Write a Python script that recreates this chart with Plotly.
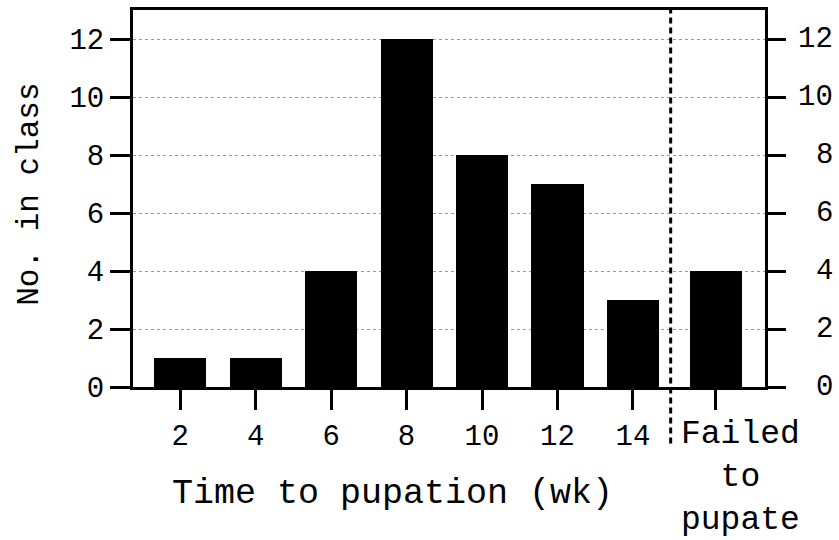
import plotly.graph_objects as go

weeks = [2, 4, 6, 8, 10, 12, 14]
week_counts = [1, 1, 4, 12, 8, 7, 3]
failed_label = "Failed<br>to<br>pupate"
failed_count = 4
failed_pos = 16.2
divider_pos = 15.0
y_ticks = [0, 2, 4, 6, 8, 10, 12]

FONT = "Liberation Mono, Courier New, monospace"
TICK_SIZE = 29

x_vals = weeks + [failed_pos]
y_vals = week_counts + [failed_count]

fig = go.Figure()
fig.add_trace(go.Bar(x=x_vals, y=y_vals, width=1.38, marker=dict(color="black", line=dict(width=0)),
                     showlegend=False))
fig.add_trace(go.Scatter(x=[failed_pos], y=[0], yaxis="y2", mode="markers",
                         marker=dict(opacity=0), showlegend=False, hoverinfo="skip"))

fig.update_layout(
    width=839, height=540,
    margin=dict(l=133, r=74, t=10, b=153),
    plot_bgcolor="white", paper_bgcolor="white",
    font=dict(family=FONT, size=TICK_SIZE, color="black"),
    bargap=0,
    xaxis=dict(range=[0.75, 17.5], tickvals=x_vals,
               ticktext=[str(w) for w in weeks] + [""],
               ticks="outside", ticklen=20, tickwidth=3, tickcolor="black",
               showline=True, linewidth=3, linecolor="black", mirror=True,
               showgrid=False, zeroline=False, automargin=False,
               tickfont=dict(size=TICK_SIZE)),
    yaxis=dict(range=[0, 13], tickvals=y_ticks,
               ticks="outside", ticklen=20, tickwidth=3, tickcolor="black",
               showline=True, linewidth=3, linecolor="black",
               showgrid=True, gridcolor="#999999", gridwidth=1, griddash="dot",
               zeroline=False, automargin=False, tickfont=dict(size=TICK_SIZE)),
    yaxis2=dict(range=[0, 13], tickvals=y_ticks, overlaying="y", side="right",
                ticks="outside", ticklen=18, tickwidth=3, tickcolor="black",
                showline=True, linewidth=3, linecolor="black", showticklabels=False,
                showgrid=False, zeroline=False, automargin=False),
)

# right-hand tick labels (right-aligned)
for v in y_ticks:
    fig.add_annotation(text=str(v), xref="paper", yref="y", x=1, y=v, xanchor="right",
                       xshift=70, showarrow=False, font=dict(size=TICK_SIZE))

fig.add_shape(type="line", xref="x", yref="paper", x0=divider_pos, x1=divider_pos,
              y0=-0.15, y1=1, line=dict(color="black", width=3, dash="6px,4px"))

fig.add_annotation(text="Time to pupation (wk)", xref="x", yref="paper", x=7.64, y=-0.285,
                   xanchor="center", yanchor="middle", showarrow=False, font=dict(size=35))
fig.add_annotation(text="No. in class", xref="paper", yref="paper", x=0, xshift=-103,
                   xanchor="center", yanchor="middle",
                   y=0.51, textangle=-90, showarrow=False, font=dict(size=31))
fig.add_annotation(text=failed_label, xref="x", yref="paper", x=16.85, y=-0.072,
                   xanchor="center", yanchor="top", showarrow=False, font=dict(size=33),
                   align="center")

fig.write_html("out.html", config={"displayModeBar": False},
               post_script="document.body.style.margin='0';document.body.style.overflow='hidden';")
